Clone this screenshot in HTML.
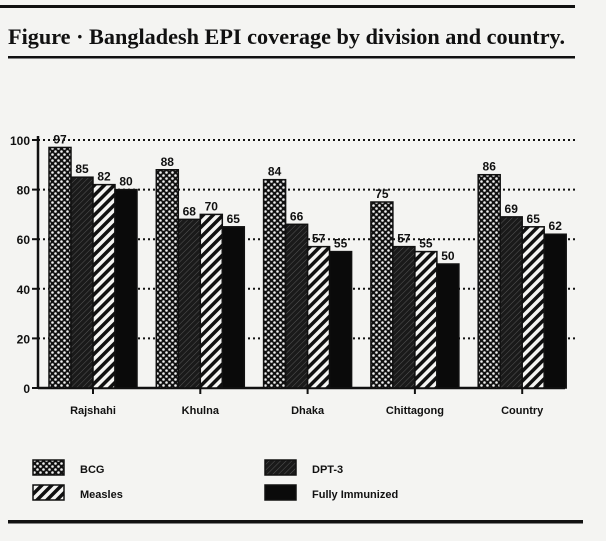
<!DOCTYPE html>
<html><head><meta charset="utf-8"><style>
html,body{margin:0;padding:0;background:#f4f4f2;}
svg{display:block;font-family:"Liberation Sans",sans-serif;}
</style></head><body>
<svg id="c" width="606" height="541" viewBox="0 0 606 541">
<defs>
<pattern id="pBCG" width="6" height="6" patternUnits="userSpaceOnUse"><rect width="6" height="6" fill="#111"/><circle cx="1.5" cy="1.5" r="1.3" fill="#eee"/><circle cx="4.5" cy="4.5" r="1.3" fill="#eee"/></pattern>
<pattern id="pDPT" width="4" height="4" patternUnits="userSpaceOnUse" patternTransform="rotate(45)"><rect width="4" height="4" fill="#1a1a1a"/><line x1="0" y1="0" x2="0" y2="4" stroke="#555" stroke-width="1"/></pattern>
<pattern id="pMea" width="7" height="7" patternUnits="userSpaceOnUse" patternTransform="rotate(45)"><rect width="7" height="7" fill="#f4f4f2"/><rect width="3.5" height="7" fill="#111"/></pattern>
</defs>
<rect x="0" y="5" width="575" height="3" fill="#111"/>
<text x="8" y="44" font-family="Liberation Serif,serif" font-weight="bold" font-size="22" fill="#111" textLength="557" lengthAdjust="spacingAndGlyphs">Figure  · Bangladesh EPI coverage by division and country.</text>
<rect x="8" y="56" width="567" height="2.5" fill="#111"/>
<rect x="8" y="520" width="575" height="3.5" fill="#111"/>
<g id="plot"></g>
<g id="legend"></g>
</svg>
<script>
const categories=["Rajshahi","Khulna","Dhaka","Chittagong","Country"];
const bcg=[97,88,84,75,86];
const dpt3=[85,68,66,57,69];
const measles=[82,70,57,55,65];
const fully=[80,65,55,50,62];
const yTicks=[0,20,40,60,80,100];
const seriesNames=["BCG","DPT-3","Measles","Fully Immunized"];
const NS="http://www.w3.org/2000/svg";
const g=document.getElementById('plot');
const x0=38,x1=575,yb=388,yt=140;
const y=v=>yb-(v/100)*(yb-yt);
const gw=107.3;
const cx=i=>93+gw*i;
function mk(t,a,p){const e=document.createElementNS(NS,t);for(const k in a)e.setAttribute(k,a[k]);(p||g).appendChild(e);return e;}
yTicks.forEach(t=>{
 if(t>0){const l=mk('line',{x1:x0,x2:x1,y1:y(t),y2:y(t),stroke:'#111','stroke-width':2,'stroke-dasharray':'2 3'});
 
 }
 const tk=mk('line',{x1:x0-6,x2:x0,y1:y(t),y2:y(t),stroke:'#111','stroke-width':2});
 
 
 const tx=mk('text',{x:x0-8,y:y(t)+5,'text-anchor':'end','font-size':12,'font-weight':'bold',fill:'#111'});
 tx.textContent=t;
 
 
});
const ax=mk('line',{x1:x0,x2:x0,y1:yt-4,y2:yb,stroke:'#111','stroke-width':2.5});


const xa=mk('line',{x1:x0,x2:x1-10,y1:yb,y2:yb,stroke:'#111','stroke-width':2.5});


const series=[bcg,dpt3,measles,fully];
const fills=['url(#pBCG)','url(#pDPT)','url(#pMea)','#0a0a0a'];
const bw=22;
categories.forEach((c,i)=>{
 const tk=mk('line',{x1:cx(i),x2:cx(i),y1:yb,y2:yb+6,stroke:'#111','stroke-width':2});
 
 
 const lb=mk('text',{x:cx(i),y:yb+26,'text-anchor':'middle','font-size':11,'font-weight':'bold',fill:'#111'});
 lb.textContent=c;
 
 
 series.forEach((s,j)=>{
  const bx=cx(i)-2*bw+j*bw;
  const r=mk('rect',{x:bx,y:y(s[i]),width:bw,height:yb-y(s[i]),fill:fills[j],stroke:'#111','stroke-width':1.5});
  
  
  const v=mk('text',{x:bx+bw/2,y:y(s[i])-4,'text-anchor':'middle','font-size':12,'font-weight':'bold',fill:'#111'});
  v.textContent=s[i];
  
  
 });
});
const lg=document.getElementById('legend');
const lpos=[[33,460],[265,460],[33,485],[265,485]];
[0,1,2,3].forEach(j=>{
 const [lx,ly]=lpos[j];
 const r=mk('rect',{x:lx,y:ly,width:31,height:15,fill:fills[j],stroke:'#111','stroke-width':1.5},lg);
 
 
 const t=mk('text',{x:lx+47,y:ly+13,'font-size':11,'font-weight':'bold',fill:'#111'},lg);
 t.textContent=seriesNames[j];
 
 
});
</script>
</body></html>
